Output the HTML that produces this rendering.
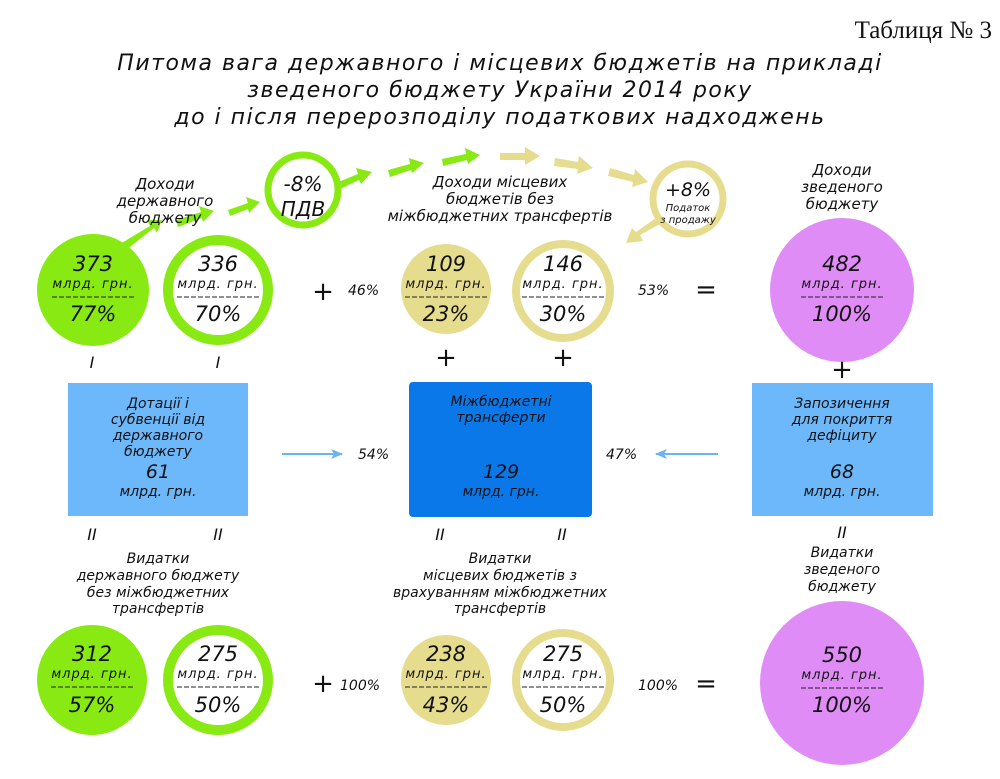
<!DOCTYPE html>
<html><head><meta charset="utf-8"><style>
body{margin:0;background:#fff}
svg text{font-family:"DejaVu Sans","Liberation Sans",sans-serif;font-style:italic;fill:#111}
</style></head><body>
<svg width="1000" height="774" viewBox="0 0 1000 774" xmlns="http://www.w3.org/2000/svg">
<defs>
<marker id="ab" markerWidth="12" markerHeight="10" refX="11" refY="5" orient="auto" markerUnits="userSpaceOnUse"><path d="M0,0 L12,5 L0,10 L3,5 z" fill="#6ab4f2"/></marker>
</defs>
<text x="992" y="38" text-anchor="end" style="font-family:'Liberation Serif',serif;font-style:normal;font-size:25px">Таблиця № 3</text>
<g text-anchor="middle" font-size="22" style="letter-spacing:1.5px;font-weight:bold" fill="#222">
<text x="500" y="70" style="font-weight:500">Питома вага державного і місцевих бюджетів на прикладі</text>
<text x="500" y="97" style="font-weight:500">зведеного бюджету України 2014 року</text>
<text x="500" y="124" style="font-weight:500">до і після перерозподілу податкових надходжень</text>
</g>
<!-- arrows green -->
<g fill="#88ea12">
<polygon points="120,244 150,226 147,220 162,220 157,233 154,228 125,251"/>
<polygon points="176,220 201,212 199,206 214,211 203,222 202,218 178,227"/>
<polygon points="228,210 248,203 246,197 260,202 249,213 248,209 230,216"/>
<polygon points="336,183 358,174 356,168 372,172 361,184 359,180 338,190"/>
<polygon points="388,170 410,164 409,158 424,163 412,173 411,170 390,177"/>
<polygon points="442,159 466,154 465,148 480,155 468,164 467,160 443,166"/>
</g>
<g fill="#e6dc8e">
<polygon points="500,153 525,153 525,147 540,156 525,165 525,160 500,160"/>
<polygon points="555,158 578,162 579,156 593,168 577,174 578,169 554,166"/>
<polygon points="610,168 634,175 635,169 648,182 632,187 633,182 608,176"/>
<polygon points="660,224 640,235 643,241 626,243 632,228 636,232 656,218"/>
</g>
<!-- circles top -->
<circle cx="93" cy="290" r="56" fill="#88ea12"/>
<circle cx="218" cy="290" r="50" fill="#fff" stroke="#88ea12" stroke-width="10"/>
<circle cx="303" cy="190" r="35" fill="#fff" stroke="#88ea12" stroke-width="7"/>
<circle cx="446" cy="289" r="45" fill="#e6dc8e"/>
<circle cx="563" cy="291" r="47" fill="#fff" stroke="#e6dc8e" stroke-width="8"/>
<circle cx="688" cy="199" r="35" fill="#fff" stroke="#e6dc8e" stroke-width="7"/>
<circle cx="842" cy="290" r="72" fill="#e08cf6"/>
<!-- circles bottom -->
<circle cx="92" cy="680" r="55" fill="#88ea12"/>
<circle cx="218" cy="680" r="50" fill="#fff" stroke="#88ea12" stroke-width="10"/>
<circle cx="446" cy="680" r="45" fill="#e6dc8e"/>
<circle cx="563" cy="680" r="47" fill="#fff" stroke="#e6dc8e" stroke-width="8"/>
<circle cx="842" cy="683" r="82" fill="#e08cf6"/>
<!-- boxes -->
<rect x="68" y="383" width="180" height="133" fill="#6db8fa"/>
<rect x="409" y="382" width="183" height="135" rx="4" fill="#0a78e8"/>
<rect x="752" y="383" width="181" height="133" fill="#6db8fa"/>
<line x1="282" y1="454" x2="342" y2="454" stroke="#6ab4f2" stroke-width="2" marker-end="url(#ab)"/>
<line x1="718" y1="454" x2="656" y2="454" stroke="#6ab4f2" stroke-width="2" marker-end="url(#ab)"/>
<!-- dashed separators -->
<g stroke="#222" stroke-width="1" stroke-dasharray="5,2">
<line x1="52" y1="297" x2="134" y2="297"/><line x1="177" y1="297" x2="259" y2="297"/>
<line x1="405" y1="297" x2="487" y2="297"/><line x1="522" y1="297" x2="604" y2="297"/>
<line x1="801" y1="297" x2="883" y2="297"/>
<line x1="51" y1="687" x2="133" y2="687"/><line x1="177" y1="687" x2="259" y2="687"/>
<line x1="405" y1="687" x2="487" y2="687"/><line x1="522" y1="687" x2="604" y2="687"/>
<line x1="801" y1="688" x2="883" y2="688"/>
</g>
<g text-anchor="middle" font-size="15">
<text x="165" y="189">Доходи</text><text x="165" y="206">державного</text><text x="165" y="223">бюджету</text>
<text x="500" y="187">Доходи місцевих</text><text x="500" y="204">бюджетів без</text><text x="500" y="221">міжбюджетних трансфертів</text>
<text x="842" y="175">Доходи</text><text x="842" y="192">зведеного</text><text x="842" y="209">бюджету</text>
<text x="303" y="191" font-size="20">-8%</text><text x="303" y="216" font-size="20">ПДВ</text>
<text x="688" y="196" font-size="19">+8%</text><text x="688" y="211" font-size="10">Податок</text><text x="688" y="223" font-size="10">з продажу</text>
</g>
<g text-anchor="middle" font-size="21">
<text x="93" y="271">373</text><text x="93" y="321">77%</text>
<text x="218" y="271">336</text><text x="218" y="321">70%</text>
<text x="446" y="271">109</text><text x="446" y="321">23%</text>
<text x="563" y="271">146</text><text x="563" y="321">30%</text>
<text x="842" y="271">482</text><text x="842" y="321">100%</text>
<text x="92" y="661">312</text><text x="92" y="712">57%</text>
<text x="218" y="661">275</text><text x="218" y="712">50%</text>
<text x="446" y="661">238</text><text x="446" y="712">43%</text>
<text x="563" y="661">275</text><text x="563" y="712">50%</text>
<text x="842" y="662">550</text><text x="842" y="712">100%</text>
</g>
<g text-anchor="middle" font-size="13" style="letter-spacing:1px">
<text x="93" y="288">млрд. грн.</text>
<text x="218" y="288">млрд. грн.</text>
<text x="446" y="288">млрд. грн.</text>
<text x="563" y="288">млрд. грн.</text>
<text x="842" y="288">млрд. грн.</text>
<text x="92" y="678">млрд. грн.</text>
<text x="218" y="678">млрд. грн.</text>
<text x="446" y="678">млрд. грн.</text>
<text x="563" y="678">млрд. грн.</text>
<text x="842" y="679">млрд. грн.</text>
</g>
<g font-size="14">
<text x="348" y="295">46%</text><text x="638" y="295">53%</text>
<text x="358" y="459">54%</text><text x="606" y="459">47%</text>
<text x="340" y="690">100%</text><text x="638" y="690">100%</text>
</g>
<g text-anchor="middle" font-size="26" style="font-style:normal">
<text x="323" y="300">+</text><text x="706" y="298">=</text>
<text x="446" y="366">+</text><text x="563" y="366">+</text><text x="842" y="378">+</text>
<text x="323" y="692">+</text><text x="706" y="692">=</text>
</g>
<g text-anchor="middle" font-size="16" style="font-style:normal">
<text x="92" y="368">I</text><text x="218" y="368">I</text>
<text x="92" y="540">II</text><text x="218" y="540">II</text>
<text x="440" y="540">II</text><text x="562" y="540">II</text><text x="842" y="538">II</text>
</g>
<g text-anchor="middle" font-size="14">
<text x="158" y="408">Дотації і</text><text x="158" y="424">субвенції від</text><text x="158" y="440">державного</text><text x="158" y="456">бюджету</text>
<text x="158" y="478" font-size="19">61</text><text x="158" y="496">млрд. грн.</text>
<text x="501" y="406">Міжбюджетні</text><text x="501" y="422">трансферти</text>
<text x="501" y="478" font-size="19">129</text><text x="501" y="496">млрд. грн.</text>
<text x="842" y="408">Запозичення</text><text x="842" y="424">для покриття</text><text x="842" y="440">дефіциту</text>
<text x="842" y="478" font-size="19">68</text><text x="842" y="496">млрд. грн.</text>
<text x="158" y="563">Видатки</text><text x="158" y="580">державного бюджету</text><text x="158" y="597">без міжбюджетних</text><text x="158" y="613">трансфертів</text>
<text x="500" y="563">Видатки</text><text x="500" y="580">місцевих бюджетів з</text><text x="500" y="597">врахуванням міжбюджетних</text><text x="500" y="613">трансфертів</text>
<text x="842" y="557">Видатки</text><text x="842" y="574">зведеного</text><text x="842" y="591">бюджету</text>
</g>
</svg>
</body></html>
